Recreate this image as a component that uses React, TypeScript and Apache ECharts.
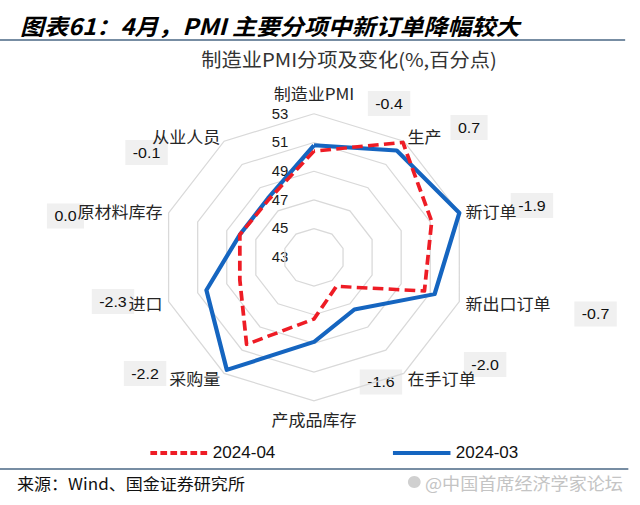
import React, { useEffect, useRef } from 'react';
import * as echarts from 'echarts';

// ---- data (clockwise from the top) ----
const categories = ['制造业PMI', '生产', '新订单', '新出口订单', '在手订单', '产成品库存', '采购量', '进口', '原材料库存', '从业人员'];
const seriesApr = '2024-04';
const seriesMar = '2024-03';
const apr2024 = [50.4, 52.9, 51.1, 50.6, 45.5, 47.3, 50.5, 48.1, 48.1, 48.0];
const mar2024 = [50.8, 52.2, 53.0, 51.3, 47.5, 48.9, 52.7, 50.4, 48.1, 48.1];
const changeLabels = ['-0.4', '0.7', '-1.9', '-0.7', '-2.0', '-1.6', '-2.2', '-2.3', '0.0', '-0.1'];
const axisMin = 43;
const axisMax = 53;
const axisStep = 2;

const titleText = '图表61：4月，PMI 主要分项中新订单降幅较大';
const subTitleText = '制造业PMI分项及变化(%,百分点)';
const sourceText = '来源：Wind、国金证券研究所';
const watermarkText = '@中国首席经济学家论坛';

// ---- layout / style ----
const S = 1.065; // the reference is stretched horizontally
const W = 640 / S;
const H = 505;
const CX = 294.8;
const CY = 257.3;
const R = 143.5;
const BLUE = '#1565c0';
const RED = '#ee1c25';
const RULE = '#4a6785';
const NAME_FONT = 16;
// positions of the change boxes (same order as categories)
const changePos: [number, number][] = [
  [365.3, 103.5], [440.4, 127.5], [499.5, 205.5], [559.2, 314], [455.5, 364.5],
  [357.7, 382], [136.2, 373.5], [106.1, 301.5], [61.5, 216], [137.6, 152.5],
];

// ECharts radar goes counter-clockwise: reorder to keep the clockwise layout
const order = [0, ...categories.map((_, i) => i).slice(1).reverse()];
const pick = (arr: any[]) => order.map((i) => arr[i]);

const dashIcon = 'path://' + Array.from({ length: 6 }, (_, i) => `M${i * 94} 0h63v40h-63z`).join(' ');

function buildOption(): any {
  const graphics: any[] = [
    {
      type: 'text', x: 18.8, y: 25,
      style: { text: titleText, fontSize: 22.5, fontWeight: 'bold', fontStyle: 'italic', fontFamily: 'Noto Sans CJK SC', fill: '#000', verticalAlign: 'middle' },
    },
    { type: 'line', shape: { x1: 0, y1: 40, x2: 587, y2: 40 }, style: { stroke: RULE, lineWidth: 1.5 } },
    {
      type: 'text', x: 327.7, y: 58.5,
      style: { text: subTitleText, fontSize: 19, fontFamily: 'Noto Sans CJK SC', fill: '#333', align: 'center', verticalAlign: 'middle' },
    },
    { type: 'line', shape: { x1: 0, y1: 469, x2: 590, y2: 469 }, style: { stroke: RULE, lineWidth: 1.5 } },
    {
      type: 'text', x: 16, y: 483,
      style: { text: sourceText, fontSize: 16, fontFamily: 'Noto Sans CJK SC', fill: '#111', verticalAlign: 'middle' },
    },
    { type: 'circle', shape: { cx: 389, cy: 482, r: 6 }, style: { fill: '#d0d0d0' } },
    {
      type: 'text', x: 399, y: 483,
      style: { text: watermarkText, fontSize: 17, fontFamily: 'Noto Sans CJK SC', fill: '#c4c4c4', verticalAlign: 'middle' },
    },
  ];
  changeLabels.forEach((t, i) => {
    graphics.push({
      type: 'text', x: changePos[i][0], y: changePos[i][1], z: -1,
      style: {
        text: t, fontSize: 15, fontFamily: 'Liberation Sans', fill: '#111',
        align: 'center', verticalAlign: 'middle', backgroundColor: '#f0f0f0', padding: [5, 7],
      },
    });
  });

  return {
    animation: false,
    backgroundColor: '#fff',
    graphic: graphics,
    legend: {
      left: 136.2, top: 440, itemGap: 110.4, itemWidth: 54, itemHeight: 4, selectedMode: false,
      textStyle: { fontSize: 16, color: '#111', fontFamily: 'Liberation Sans' },
      itemStyle: { borderWidth: 0 },
      data: [{ name: seriesApr, icon: dashIcon }, { name: seriesMar, icon: 'rect' }],
    },
    radar: {
      center: [CX, CY], radius: R, startAngle: 90, splitNumber: (axisMax - axisMin) / axisStep, shape: 'polygon',
      nameGap: 6, z: 1,
      indicator: pick(categories).map((name: string) => ({ name, min: axisMin, max: axisMax })),
      axisName: {
        color: '#262626', fontSize: NAME_FONT, fontFamily: 'Noto Sans CJK SC',
        formatter: (name: string) => (name === categories[0] ? `{t|${name}}` : name === categories[5] ? `{b|${name}}` : name),
        rich: {
          t: { padding: [0, 0, 7, 0], color: '#262626', fontSize: NAME_FONT, fontFamily: 'Noto Sans CJK SC' },
          b: { padding: [4, 0, 0, 0], color: '#262626', fontSize: NAME_FONT, fontFamily: 'Noto Sans CJK SC' },
        },
      },
      axisLine: { show: false },
      axisTick: { show: false },
      axisLabel: { show: false },
      splitArea: { show: false },
      splitLine: { lineStyle: { color: '#d9d9d9', width: 1.2 } },
    },
    polar: { center: [CX, CY], radius: R },
    angleAxis: { show: false, startAngle: 90, min: 0, max: 360 },
    radiusAxis: {
      min: axisMin, max: axisMax, interval: axisStep,
      axisLine: { show: false }, axisTick: { show: false }, splitLine: { show: false }, splitArea: { show: false },
      axisLabel: { margin: 24, color: '#1a1a1a', fontSize: 14, fontFamily: 'Liberation Sans' },
    },
    series: [
      {
        type: 'radar', name: seriesMar, symbol: 'none', z: 2,
        itemStyle: { color: BLUE }, lineStyle: { color: BLUE, width: 4 },
        data: [{ name: seriesMar, value: pick(mar2024) }],
      },
      {
        type: 'radar', name: seriesApr, symbol: 'none', z: 3,
        itemStyle: { color: RED }, lineStyle: { color: RED, width: 3.5, type: [10, 5] },
        data: [{ name: seriesApr, value: pick(apr2024) }],
      },
    ],
  };
}

export default function App() {
  const ref = useRef<HTMLDivElement>(null);
  useEffect(() => {
    if (!ref.current) return;
    const chart = echarts.init(ref.current, null, { renderer: 'svg', width: W, height: H });
    chart.setOption(buildOption());
    return () => chart.dispose();
  }, []);
  return (
    <div style={{ position: 'fixed', left: 0, top: 0, width: 640, height: H, overflow: 'hidden', background: '#fff' }}>
      <div ref={ref} style={{ width: W, height: H, transform: `scaleX(${S})`, transformOrigin: '0 0' }} />
    </div>
  );
}
